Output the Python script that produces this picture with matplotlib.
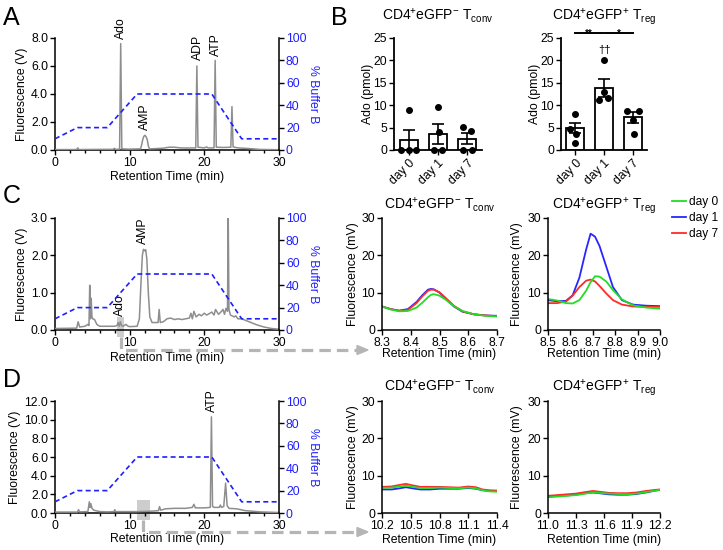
import numpy as np
import matplotlib
matplotlib.use('Agg')
import matplotlib.pyplot as plt
from matplotlib.ticker import MultipleLocator, FormatStrFormatter
from matplotlib.patches import Rectangle, Polygon
from matplotlib.lines import Line2D
import matplotlib.transforms as mtransforms

plt.rcParams['font.family'] = ['Liberation Sans', 'DejaVu Sans']
plt.rcParams['mathtext.fontset'] = 'custom'
plt.rcParams['mathtext.rm'] = 'Liberation Sans'
plt.rcParams['mathtext.it'] = 'Liberation Sans:italic'
plt.rcParams['mathtext.bf'] = 'Liberation Sans:bold'

# ---------------- data ----------------
gradient_time = [0, 3, 7, 11, 21, 25, 30]
gradient_pct = [10, 20, 20, 50, 50, 10, 10]

a_time = [0, 2.9, 3.05, 3.2, 5, 7.8, 7.95, 8.1, 8.65, 8.8, 8.95, 10, 11.45, 11.6, 11.75, 11.9, 12.05,
          12.2, 12.35, 12.5, 12.65, 13.5, 14.5, 15.3, 16.0, 16.8, 17.5, 18.85, 19.0, 19.15, 20.0, 20.3,
          20.5, 21.3, 21.45, 21.6, 22.5, 23.55, 23.7, 23.85, 24.5, 25.5, 26.5, 27.5, 30]
a_signal = [0.03, 0.03, 0.15, 0.03, 0.04, 0.05, 0.12, 0.05, 0.06, 7.6, 0.08, 0.06, 0.08, 0.35, 0.75, 0.98,
            1.05, 0.95, 0.75, 0.3, 0.08, 0.1, 0.13, 0.2, 0.2, 0.15, 0.14, 0.15, 6.0, 0.2, 0.15, 0.22,
            0.15, 0.15, 6.4, 0.2, 0.18, 0.2, 3.1, 0.22, 0.15, 0.12, 0.08, 0.04, 0.02]

c_time = [0, 2.9, 3.1, 3.3, 4.0, 4.4, 4.55, 4.65, 4.75, 4.85, 4.95, 5.05, 5.3, 5.6, 6.0, 7.0, 8.0, 8.3,
          8.45, 8.6, 8.75, 8.9, 9.1, 9.5, 9.8, 10.0, 11.0, 11.3, 11.5, 11.7, 11.85, 12.0, 12.15, 12.3,
          12.5, 12.7, 13.0, 13.8, 13.95, 14.1, 14.5, 15.0, 15.5, 16.0, 16.5, 17.0, 17.5, 18.0, 18.2,
          18.4, 18.6, 18.9, 19.3, 19.6, 20.0, 20.3, 20.6, 21.0, 21.3, 21.5, 21.9, 22.3, 22.5, 22.7,
          22.9, 23.1, 23.2, 23.3, 23.5, 24.0, 24.2, 24.5, 25.0, 26.0, 27.0, 28.0, 29.0, 30.0]
c_signal = [0.04, 0.05, 0.22, 0.08, 0.1, 0.15, 0.12, 1.2, 0.3, 0.85, 0.35, 0.3, 0.28, 0.15, 0.1, 0.1,
            0.1, 0.12, 0.2, 0.1, 0.22, 0.12, 0.1, 0.15, 0.1, 0.09, 0.1, 0.3, 1.2, 2.0, 2.16, 2.12,
            2.15, 1.9, 1.0, 0.35, 0.2, 0.2, 0.55, 0.2, 0.22, 0.3, 0.32, 0.28, 0.3, 0.28, 0.3, 0.32,
            0.45, 0.3, 0.5, 0.35, 0.42, 0.38, 0.45, 0.4, 0.43, 0.48, 0.4, 0.55, 0.42, 0.5, 0.55, 0.42,
            0.58, 0.5, 3.0, 0.55, 0.4, 0.35, 0.38, 0.3, 0.3, 0.22, 0.14, 0.08, 0.04, 0.02]

d_time = [0, 3.0, 3.15, 3.3, 4.4, 4.6, 4.7, 4.8, 4.95, 5.2, 6.0, 7.0, 7.9, 8.0, 8.1, 9.0, 11.0, 13.0,
          13.85, 14.0, 14.15, 14.8, 16.0, 17.5, 18.4, 18.6, 18.8, 20.0, 20.8, 20.95, 21.1, 21.3, 22.0,
          22.15, 22.3, 22.6, 22.85, 23.05, 23.3, 24.3, 25.5, 27.5, 30.0]
d_signal = [0.1, 0.1, 0.35, 0.12, 0.15, 1.2, 0.6, 1.0, 0.5, 0.3, 0.15, 0.12, 0.15, 0.35, 0.15, 0.15,
            0.15, 0.2, 0.25, 0.68, 0.3, 0.45, 0.5, 0.5, 0.6, 0.93, 0.55, 0.55, 0.6, 10.3, 0.7, 0.6,
            0.6, 0.85, 0.6, 0.7, 3.2, 0.8, 0.5, 0.45, 0.25, 0.12, 0.05]

days = ['day 0', 'day 1', 'day 7']
conv_mean = [2.3, 3.5, 2.5]
conv_sem = [2.2, 2.2, 1.2]
conv_points = [[9.0, 0, 0, 0], [9.5, 4.0, 0, 0], [5.2, 4.3, 0, 0]]
conv_jitter = [[0, -0.25, 0, 0.25], [0, 0.05, -0.15, 0.15], [-0.15, 0.12, -0.15, 0.15]]
treg_mean = [4.9, 13.8, 7.3]
treg_sem = [1.2, 2.0, 1.2]
treg_points = [[8.0, 4.7, 3.5, 1.5], [20.0, 13.0, 11.2, 11.5], [8.7, 8.7, 6.8, 3.5]]
treg_jitter = [[0, -0.18, 0.02, 0], [0, 0.0, -0.17, 0.15], [-0.2, 0.21, 0.0, 0.03]]

ci_conv_time = [8.30, 8.33, 8.36, 8.39, 8.42, 8.44, 8.46, 8.47, 8.48, 8.50, 8.52, 8.55, 8.58, 8.62, 8.66, 8.70]
ci_conv_day0 = [6.3, 5.5, 5.0, 5.1, 6.0, 7.3, 8.8, 9.4, 9.6, 9.2, 8.2, 6.4, 5.1, 4.2, 3.8, 3.6]
ci_conv_day1 = [6.3, 5.6, 5.2, 5.6, 7.5, 9.3, 10.8, 11.0, 10.9, 10.0, 8.5, 6.3, 4.9, 4.2, 3.9, 3.8]
ci_conv_day7 = [6.3, 5.6, 5.1, 5.4, 7.2, 9.0, 10.5, 10.8, 10.8, 10.1, 8.7, 6.5, 5.0, 4.2, 3.9, 3.7]

ci_treg_time = [8.50, 8.54, 8.58, 8.61, 8.64, 8.67, 8.69, 8.71, 8.73, 8.76, 8.79, 8.83, 8.88, 8.94, 9.00]
ci_treg_day0 = [8.3, 7.9, 7.2, 7.1, 8.0, 10.5, 12.8, 14.4, 14.3, 13.0, 10.7, 8.2, 6.6, 6.0, 5.7]
ci_treg_day1 = [8.0, 7.7, 7.8, 9.3, 14.0, 21.5, 25.8, 25.0, 22.5, 17.0, 11.5, 8.0, 6.8, 6.5, 6.4]
ci_treg_day7 = [7.2, 7.2, 7.6, 9.2, 11.5, 13.2, 13.5, 13.0, 11.8, 9.8, 8.0, 6.8, 6.3, 6.2, 6.2]

di_conv_time = [10.20, 10.30, 10.38, 10.45, 10.52, 10.60, 10.70, 10.80, 10.90, 11.00, 11.10, 11.18, 11.25, 11.32, 11.40]
di_conv_day0 = [6.7, 6.8, 7.1, 7.3, 7.0, 6.7, 6.7, 6.8, 6.7, 6.6, 6.8, 6.6, 6.1, 5.8, 5.7]
di_conv_day1 = [6.3, 6.3, 6.6, 6.9, 6.6, 6.3, 6.3, 6.5, 6.5, 6.5, 6.7, 6.5, 6.1, 5.9, 5.9]
di_conv_day7 = [7.0, 7.1, 7.5, 7.8, 7.4, 7.0, 7.0, 7.0, 6.9, 6.8, 7.1, 6.9, 6.3, 6.1, 6.0]

di_treg_time = [11.00, 11.10, 11.20, 11.30, 11.40, 11.48, 11.55, 11.65, 11.75, 11.85, 11.95, 12.05, 12.15, 12.20]
di_treg_day0 = [4.2, 4.4, 4.6, 4.8, 5.2, 5.5, 5.4, 5.2, 5.1, 5.0, 5.2, 5.6, 6.0, 6.2]
di_treg_day1 = [4.4, 4.6, 4.7, 4.9, 5.3, 5.5, 5.3, 5.0, 4.9, 4.9, 5.1, 5.5, 6.0, 6.2]
di_treg_day7 = [4.6, 4.8, 5.0, 5.2, 5.6, 5.9, 5.7, 5.4, 5.3, 5.3, 5.5, 5.9, 6.2, 6.3]

# ---------------- figure ----------------
W, H = 723, 550
fig = plt.figure(figsize=(W / 100, H / 100), dpi=100)


def frect(l, t, r, b):
    return [l / W, 1 - b / H, (r - l) / W, (b - t) / H]


GRAY = '#8e8e8e'
BLUE = '#1f1fff'
FS = 8.8
C0, C1, C7 = '#22dd22', '#2626ff', '#ff2a2a'
TCONV = r'CD4$^{+}$eGFP$^{-}$ T$_{\mathregular{conv}}$'
TREG = r'CD4$^{+}$eGFP$^{+}$ T$_{\mathregular{reg}}$'


def style(ax):
    for s in ['top', 'right']:
        ax.spines[s].set_visible(False)
    for s in ['left', 'bottom']:
        ax.spines[s].set_linewidth(1.1)
    ax.tick_params(direction='out', length=3.5, width=1.0, pad=1.5, labelsize=FS)


def chrom(rect, t, v, ymax, ystep, ylab_x, xlab_y, peaks):
    ax = fig.add_axes(rect)
    ax.plot(t, v, color=GRAY, lw=1.1, zorder=3)
    ax.set_xlim(0, 30)
    ax.set_ylim(0, ymax)
    ax.set_xticks([0, 10, 20, 30])
    ax.xaxis.set_minor_locator(MultipleLocator(2))
    ax.set_yticks(np.arange(0, ymax + 1e-9, ystep))
    ax.yaxis.set_major_formatter(FormatStrFormatter('%.1f'))
    style(ax)
    ax.tick_params(which='minor', length=2.5, width=1.0)
    ax.set_xlabel('Retention Time (min)', fontsize=FS, va='center')
    ax.xaxis.set_label_coords(0.5, xlab_y)
    ax.set_ylabel('Fluorescence (V)', fontsize=FS, va='center')
    ax.yaxis.set_label_coords(ylab_x, 0.5)
    ax2 = ax.twinx()
    ax2.plot(gradient_time, gradient_pct, color=BLUE, lw=1.2, ls=(0, (3, 2)))
    ax2.set_ylim(0, 100)
    ax2.set_yticks(range(0, 101, 20))
    for s in ['top', 'left', 'bottom']:
        ax2.spines[s].set_visible(False)
    ax2.spines['right'].set_linewidth(1.1)
    ax2.tick_params(axis='y', direction='out', length=3.5, width=1.0, pad=1.5,
                    labelsize=FS, labelcolor=BLUE)
    ax2.set_ylabel('% Buffer B', color=BLUE, fontsize=FS, rotation=270, va='center', ha='center')
    ax2.yaxis.set_label_coords(1.152, 0.5)
    for name, x, y in peaks:
        ax.text(x, y, name, rotation=90, ha='center', va='bottom', fontsize=FS, clip_on=False)
    return ax, ax2


axA, _ = chrom(frect(55, 38, 279, 150), a_time, a_signal, 8.0, 2.0, -0.147, -0.238,
               [('Ado', 8.8, 7.95), ('AMP', 12.1, 1.45), ('ADP', 19.1, 6.45), ('ATP', 21.5, 6.75)])
axC, _ = chrom(frect(55, 218, 279, 330), c_time, c_signal, 3.0, 1.0, -0.147, -0.246,
               [('AMP', 11.8, 2.3), ('Ado', 8.75, 0.38)])
axD, _ = chrom(frect(55, 401, 279, 513), d_time, d_signal, 12.0, 2.0, -0.179, -0.232,
               [('ATP', 21.0, 10.8)])

# highlight boxes
BOXC = '#cdcdcd'
for ax, x0, x1 in [(axC, 8.3, 9.2), (axD, 11.0, 12.7)]:
    tr = mtransforms.blended_transform_factory(ax.transData, ax.transAxes)
    ax.add_patch(Rectangle((x0, -0.0625), x1 - x0, 0.178, transform=tr, facecolor=BOXC,
                           edgecolor='none', clip_on=False, zorder=1))

# dashed arrows
ARROW = '#b5b5b5'
for path in [[(121, 337), (121, 350), (357, 350)], [(143, 520), (143, 532), (357, 532)]]:
    xs = [p[0] / W for p in path]
    ys = [1 - p[1] / H for p in path]
    fig.add_artist(Line2D(xs, ys, transform=fig.transFigure, color=ARROW, lw=2.3,
                          dashes=(3.6, 1.9)))
    yy = path[-1][1]
    fig.add_artist(Polygon([(357 / W, 1 - (yy - 4.5) / H), (368 / W, 1 - yy / H),
                            (357 / W, 1 - (yy + 4.5) / H)], closed=True,
                           transform=fig.transFigure, color=ARROW))


# ---------------- panel B ----------------
def bars(rect, means, sems, points, jitter, title, ylab_x):
    ax = fig.add_axes(rect)
    x = np.arange(len(days))
    ax.bar(x, means, width=0.62, color='white', edgecolor='black', linewidth=1.3, zorder=2)
    ax.errorbar(x, means, yerr=sems, fmt='none', ecolor='black', elinewidth=1.2,
                capsize=4, capthick=1.2, zorder=3)
    for i in range(len(days)):
        ax.plot(x[i] + np.array(jitter[i]), points[i], 'o', color='black', ms=4,
                clip_on=False, zorder=4)
    ax.set_xlim(-0.5, 2.5)
    ax.set_ylim(0, 25)
    ax.set_yticks(range(0, 26, 5))
    ax.set_xticks(x)
    ax.set_xticklabels(days, rotation=45, ha='right', rotation_mode='anchor')
    style(ax)
    ax.spines['left'].set_linewidth(1.3)
    ax.spines['bottom'].set_linewidth(1.3)
    ax.set_ylabel('Ado (pmol)', fontsize=FS, va='center')
    ax.yaxis.set_label_coords(ylab_x, 0.5)
    ax.set_title(title, fontsize=10, pad=12.5)
    return ax


axB1 = bars(frect(394, 38, 482, 150), conv_mean, conv_sem, conv_points, conv_jitter, TCONV, -0.295)
axB2 = bars(frect(561, 38, 647, 150), treg_mean, treg_sem, treg_points, treg_jitter, TREG, -0.302)
for xa, xb, lab in [(0.0, 0.97, '**'), (1.03, 2.0, '*')]:
    axB2.plot([xa, xb], [26.2, 26.2], color='black', lw=1.4, clip_on=False)
    axB2.text((xa + xb) / 2, 25.3, lab, ha='center', va='baseline', fontsize=7, fontweight='bold',
              clip_on=False)
axB2.text(1, 22.3, '\u2020\u2020', ha='center', va='center', fontsize=8)


# ---------------- insets ----------------
def inset(rect, t, d0, d1, d7, xticks, xfmt, title, ylab_x, xlab_y, title_pad):
    ax = fig.add_axes(rect)
    l1, = ax.plot(t, d1, color=C1, lw=1.3)
    l7, = ax.plot(t, d7, color=C7, lw=1.3)
    l0, = ax.plot(t, d0, color=C0, lw=1.3)
    ax.set_xlim(xticks[0], xticks[-1])
    ax.set_ylim(0, 30)
    ax.set_yticks([0, 10, 20, 30])
    ax.set_xticks(xticks)
    ax.xaxis.set_major_formatter(FormatStrFormatter(xfmt))
    style(ax)
    ax.set_xlabel('Retention Time (min)', fontsize=FS, va='center')
    ax.xaxis.set_label_coords(0.5, xlab_y)
    ax.set_ylabel('Fluorescence (mV)', fontsize=FS, va='center')
    ax.yaxis.set_label_coords(ylab_x, 0.5)
    ax.set_title(title, fontsize=10, pad=title_pad)
    return ax, (l0, l1, l7)


inset(frect(382, 218, 497, 330), ci_conv_time, ci_conv_day0, ci_conv_day1, ci_conv_day7,
      [8.3, 8.4, 8.5, 8.6, 8.7], '%.1f', TCONV, -0.252, -0.215, 6)
_, handles = inset(frect(548, 218, 660, 330), ci_treg_time, ci_treg_day0, ci_treg_day1, ci_treg_day7,
                   [8.5, 8.6, 8.7, 8.8, 8.9, 9.0], '%.1f', TREG, -0.277, -0.215, 6)
inset(frect(382, 401, 497, 513), di_conv_time, di_conv_day0, di_conv_day1, di_conv_day7,
      [10.2, 10.5, 10.8, 11.1, 11.4], '%.1f', TCONV, -0.252, -0.24, 7)
inset(frect(548, 401, 660, 513), di_treg_time, di_treg_day0, di_treg_day1, di_treg_day7,
      [11.0, 11.3, 11.6, 11.9, 12.2], '%.1f', TREG, -0.277, -0.24, 7)

fig.legend(handles, ['day 0', 'day 1', 'day 7'], loc='upper left',
           bbox_to_anchor=(672 / W, 1 - 196 / H), frameon=False, fontsize=8.6,
           handlelength=1.15, handletextpad=0.3, labelspacing=0.33, borderpad=0, borderaxespad=0)

# panel letters
for lab, x, y in [('A', 3, 25), ('B', 331, 25), ('C', 3, 203), ('D', 3, 387)]:
    fig.text(x / W, 1 - y / H, lab, fontsize=18, ha='left', va='baseline')

fig.savefig('out.png', dpi=100)
